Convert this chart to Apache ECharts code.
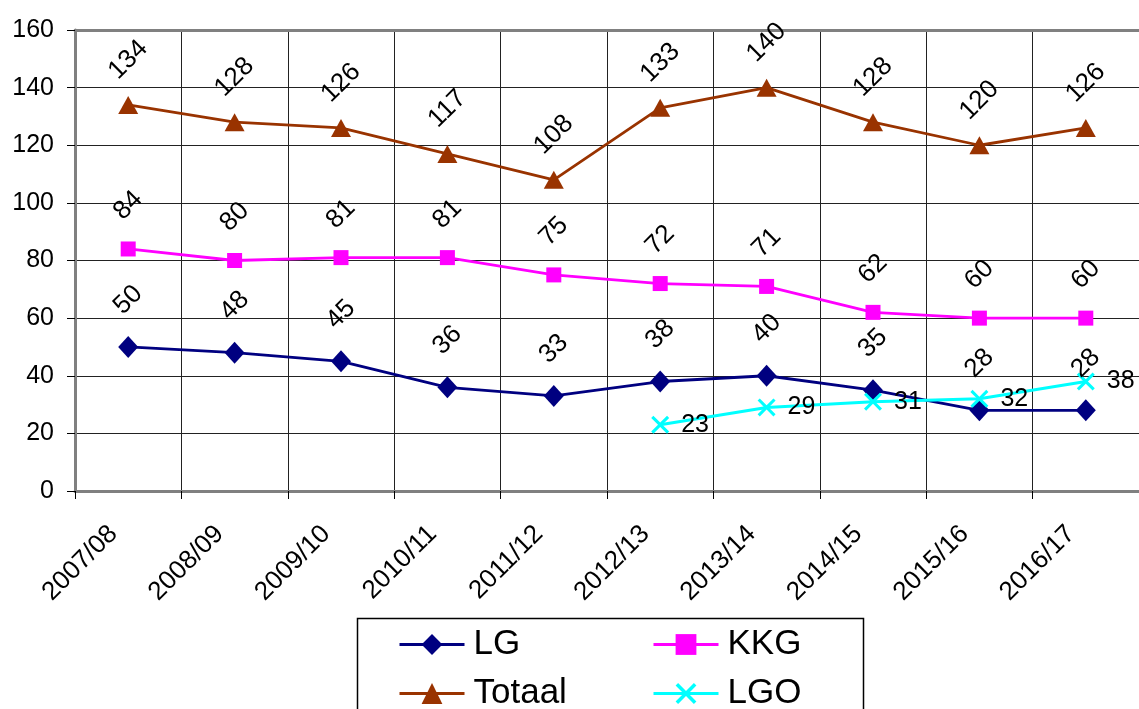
<!DOCTYPE html>
<html>
<head>
<meta charset="utf-8">
<script src="https://cdn.jsdelivr.net/npm/echarts@6/dist/echarts.min.js"></script>
<style>
html,body{margin:0;padding:0;background:#fff;}
#chart{width:1139px;height:709px;}
</style>
</head>
<body>
<div id="chart"></div>
<script>
const categories = ['2007/08','2008/09','2009/10','2010/11','2011/12','2012/13','2013/14','2014/15','2015/16','2016/17'];
const lgValues = [50,48,45,36,33,38,40,35,28,28];
const kkgValues = [84,80,81,81,75,72,71,62,60,60];
const totaalValues = [134,128,126,117,108,133,140,128,120,126];
const lgoValues = [null,null,null,null,null,23,29,31,32,38];
const yTicks = {min:0,max:160,interval:20};

const FONT = '"Liberation Sans", Arial, sans-serif';
const xSymbol = 'path://M0,1.2L1.2,0L5,3.8L8.8,0L10,1.2L6.2,5L10,8.8L8.8,10L5,6.2L1.2,10L0,8.8L3.8,5Z';

const rotLabel = {
  show:true, position:'top', distance:36, rotate:45,
  align:'center', verticalAlign:'middle',
  color:'#000', fontSize:26, fontFamily:FONT
};

const legendText = {fontSize:35,lineHeight:35,fontFamily:FONT,color:'#000',padding:[0,0,0,4]};

const chart = echarts.init(document.getElementById('chart'));
chart.setOption({
  animation:false,
  backgroundColor:'#fff',
  grid:{left:75,right:-13,top:30,bottom:218,containLabel:false},
  xAxis:[{
    type:'category', data:categories, boundaryGap:true,
    axisLine:{show:true,lineStyle:{color:'#808080',width:3}},
    axisTick:{show:true,length:8,lineStyle:{color:'#000',width:1}},
    axisLabel:{rotate:45,margin:24,padding:[0,21,0,0],color:'#000',fontSize:26,fontFamily:FONT,interval:0},
    splitLine:{show:true,lineStyle:{color:'#222',width:1}}
  },{
    type:'category', data:categories, position:'top', boundaryGap:true,
    axisLine:{show:true,lineStyle:{color:'#808080',width:3}},
    axisTick:{show:false}, axisLabel:{show:false}, splitLine:{show:false}
  }],
  yAxis:{
    type:'value', min:yTicks.min, max:yTicks.max, interval:yTicks.interval,
    axisLine:{show:true,lineStyle:{color:'#808080',width:3}},
    axisTick:{show:true,length:8,lineStyle:{color:'#000',width:1}},
    axisLabel:{color:'#000',fontSize:25,fontFamily:FONT,margin:21},
    splitLine:{show:true,lineStyle:{color:'#222',width:1}}
  },
  legend:[{
    data:['LG','Totaal'], orient:'vertical', left:398, top:627, height:140, padding:0,
    itemWidth:65, itemHeight:26, itemGap:14, textStyle:legendText,
    lineStyle:{width:3}
  },{
    data:['KKG','LGO'], orient:'vertical', left:652, top:627, height:140, padding:0,
    itemWidth:65, itemHeight:26, itemGap:14, textStyle:legendText,
    lineStyle:{width:3}
  }],
  graphic:[{
    type:'rect', left:355, top:616, silent:true,
    shape:{width:506,height:120},
    style:{fill:'none',stroke:'#000',lineWidth:1.5}
  }],
  series:[{
    name:'LG', type:'line', data:lgValues,
    symbol:'diamond', symbolSize:[20,22],
    lineStyle:{color:'#000080',width:2.8},
    itemStyle:{color:'#000080'},
    label:rotLabel
  },{
    name:'KKG', type:'line', data:kkgValues,
    symbol:'rect', symbolSize:15,
    lineStyle:{color:'#FF00FF',width:2.8},
    itemStyle:{color:'#FF00FF'},
    label:rotLabel
  },{
    name:'Totaal', type:'line', data:totaalValues,
    symbol:'triangle', symbolSize:[20,18],
    lineStyle:{color:'#993300',width:2.8},
    itemStyle:{color:'#993300'},
    label:rotLabel
  },{
    name:'LGO', type:'line', data:lgoValues,
    symbol:xSymbol, symbolSize:18,
    lineStyle:{color:'#00FFFF',width:3},
    itemStyle:{color:'#00FFFF'},
    label:{show:true,position:'right',distance:12,color:'#000',fontSize:25,fontFamily:FONT}
  }]
});
</script>
</body>
</html>
